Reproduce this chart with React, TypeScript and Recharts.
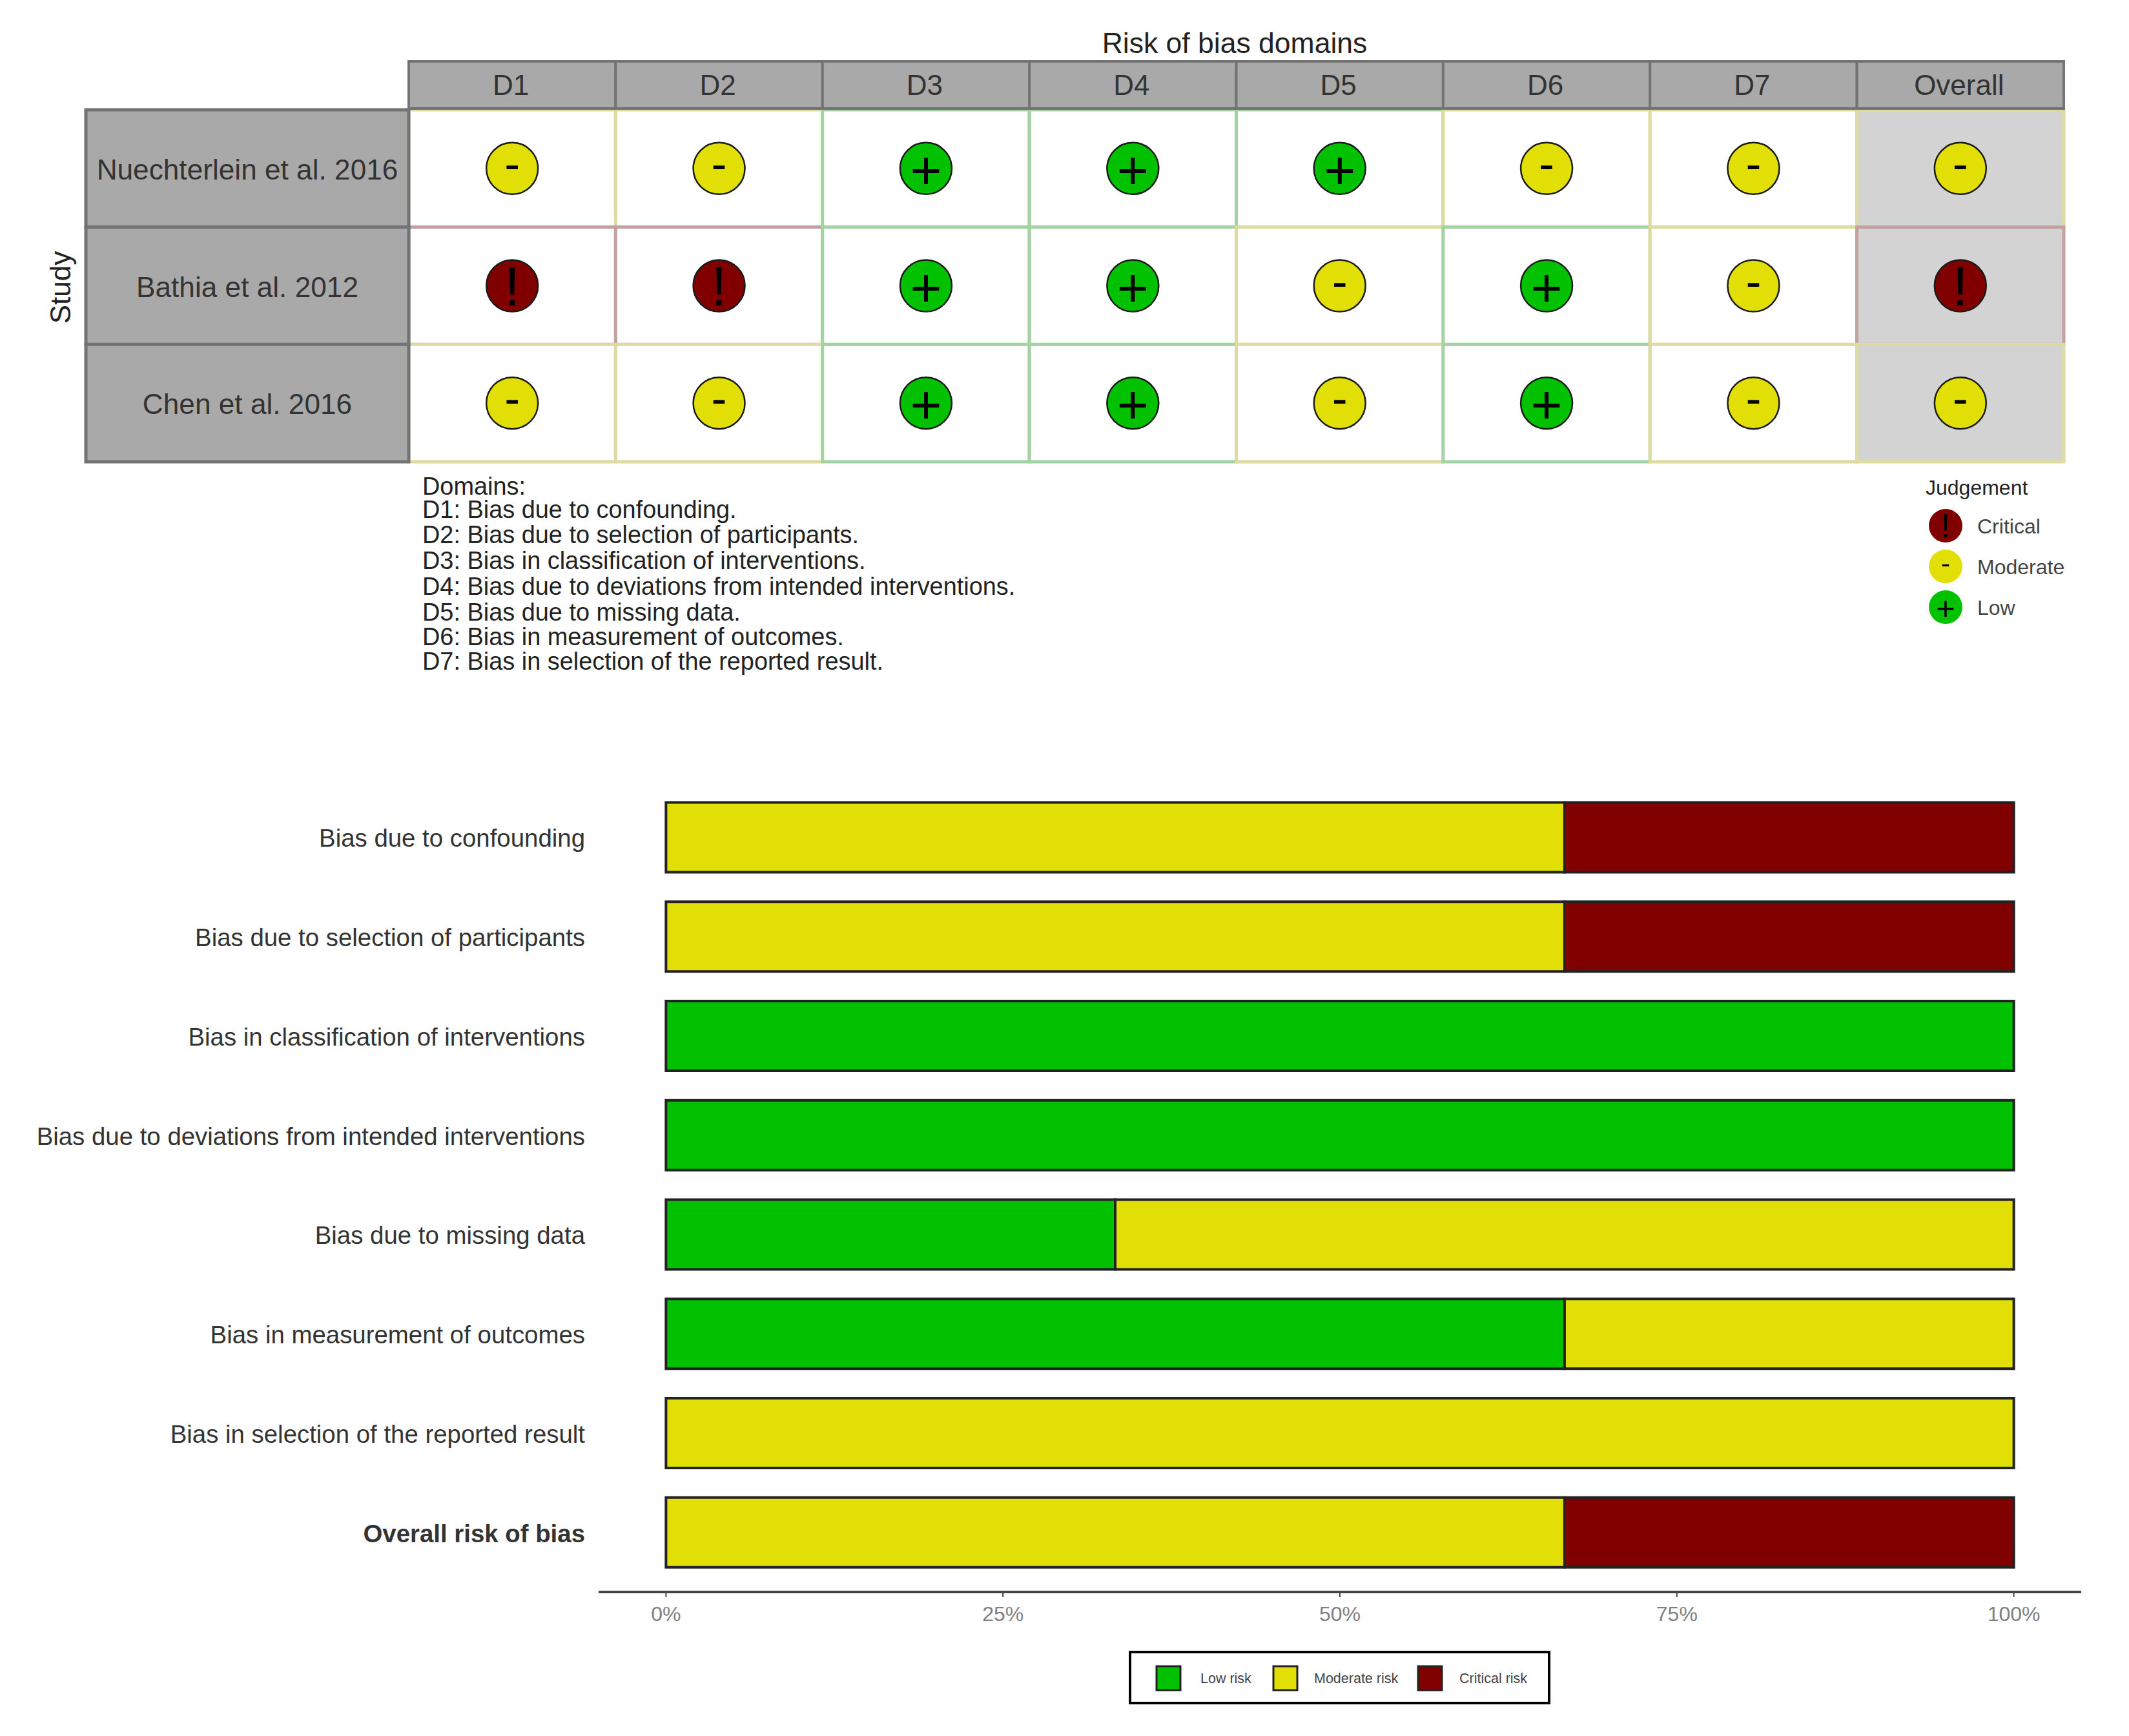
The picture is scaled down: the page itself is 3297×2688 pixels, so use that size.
import React from "react";
import { ScatterChart, Scatter, XAxis, YAxis, BarChart, Bar, Legend } from "recharts";

const FONT = "'Liberation Sans', Arial, sans-serif";

const domainLabels = ["D1", "D2", "D3", "D4", "D5", "D6", "D7", "Overall"];
const studyLabels = ["Nuechterlein et al. 2016", "Bathia et al. 2012", "Chen et al. 2016"];
const nuechterlein = ["Moderate", "Moderate", "Low", "Low", "Low", "Moderate", "Moderate", "Moderate"];
const bathia = ["Critical", "Critical", "Low", "Low", "Moderate", "Low", "Moderate", "Critical"];
const chen = ["Moderate", "Moderate", "Low", "Low", "Moderate", "Low", "Moderate", "Moderate"];
const judgementOrder = ["Critical", "Moderate", "Low"];
const footnotes = [
  "Domains:",
  "D1: Bias due to confounding.",
  "D2: Bias due to selection of participants.",
  "D3: Bias in classification of interventions.",
  "D4: Bias due to deviations from intended interventions.",
  "D5: Bias due to missing data.",
  "D6: Bias in measurement of outcomes.",
  "D7: Bias in selection of the reported result.",
];
const footnoteY = [753, 789, 828, 868, 908, 948, 986, 1024];

const barCategories = [
  "Bias due to confounding",
  "Bias due to selection of participants",
  "Bias in classification of interventions",
  "Bias due to deviations from intended interventions",
  "Bias due to missing data",
  "Bias in measurement of outcomes",
  "Bias in selection of the reported result",
  "Overall risk of bias",
];
const lowRisk = [0, 0, 100, 100, 33.33, 66.67, 0, 0];
const moderateRisk = [66.67, 66.67, 0, 0, 66.67, 33.33, 100, 66.67];
const criticalRisk = [33.33, 33.33, 0, 0, 0, 0, 0, 33.33];
const percentTicks = [0, 25, 50, 75, 100];

const GREEN = "#02C100";
const YELLOW = "#E2DF07";
const RED = "#800000";
const fills: Record<string, string> = { Critical: RED, Moderate: YELLOW, Low: GREEN };
const cellBorders: Record<string, string> = { Critical: "#C4A0A0", Moderate: "#DDDBA0", Low: "#A3D2A3" };
const glyphs: Record<string, string> = { Critical: "!", Moderate: "-", Low: "+" };

const rows = [nuechterlein, bathia, chen];
const points = rows.flatMap((row, r) =>
  row.map((judgement, c) => ({ col: c + 1, row: r + 1, judgement }))
);
const barData = barCategories.map((name, i) => ({
  name,
  low: lowRisk[i],
  moderate: moderateRisk[i],
  critical: criticalRisk[i],
}));

const PLOT_L = 633, PLOT_R = 3196, PLOT_T = 170, PLOT_B = 715;
const CELL_W = (PLOT_R - PLOT_L) / 8;
const CELL_H = (PLOT_B - PLOT_T) / 3;
const BORDER = "#737373";
const HEAD = "#A9A9A9";

function Glyph({ cx, cy, j, scale = 1 }: any) {
  const size = j === "Low" ? 84 : j === "Moderate" ? 72 : 86;
  const dy = j === "Low" ? 2 : j === "Moderate" ? -8 : 0;
  return (
    <text
      x={cx}
      y={cy + dy * scale}
      textAnchor="middle"
      dominantBaseline="central"
      fontFamily={FONT}
      fontSize={size * scale}
      fill="#000"
    >
      {glyphs[j]}
    </text>
  );
}

function CellShape(props: any) {
  const { cx, cy, payload } = props;
  const j = payload.judgement;
  const bg = payload.col === 8 ? "#D3D3D3" : "#FFFFFF";
  return (
    <g>
      <rect
        x={cx - CELL_W / 2}
        y={cy - CELL_H / 2}
        width={CELL_W}
        height={CELL_H}
        fill={bg}
        stroke={cellBorders[j]}
        strokeWidth={5}
      />
      <circle cx={cx} cy={cy} r={40} fill={fills[j]} stroke="#1a1a1a" strokeWidth={2.5} />
      <Glyph cx={cx} cy={cy} j={j} />
    </g>
  );
}

function DomainTick({ x, payload }: any) {
  return (
    <g>
      <rect x={x - CELL_W / 2} y={95} width={CELL_W} height={73} fill={HEAD} stroke={BORDER} strokeWidth={4} />
      <text x={x - 2} y={147} textAnchor="middle" fontFamily={FONT} fontSize={44} fill="#333">
        {domainLabels[payload.value - 1]}
      </text>
    </g>
  );
}

function StudyTick({ y, payload }: any) {
  return (
    <g>
      <rect x={133} y={y - CELL_H / 2} width={PLOT_L - 133} height={CELL_H} fill={HEAD} stroke={BORDER} strokeWidth={5} />
      <text x={383} y={y + 17} textAnchor="middle" fontFamily={FONT} fontSize={44.2} fill="#333">
        {studyLabels[payload.value - 1]}
      </text>
    </g>
  );
}

function JudgementLegend() {
  return (
    <svg width={3297} height={1100} style={{ position: "absolute", left: 0, top: 0, pointerEvents: "none" }}>
      <text x={2982} y={766} fontFamily={FONT} fontSize={32} fill="#222">Judgement</text>
      {judgementOrder.map((j, i) => (
        <g key={j}>
          <circle cx={3013} cy={814 + i * 63} r={26} fill={fills[j]} />
          <Glyph cx={3013} cy={814 + i * 63} j={j} scale={0.6} />
          <text x={3062} y={826 + i * 63} fontFamily={FONT} fontSize={32} fill="#444">{j}</text>
        </g>
      ))}
    </svg>
  );
}

function BarTick({ y, payload }: any) {
  const overall = payload.value === "Overall risk of bias";
  return (
    <text
      x={906}
      y={y + 15}
      textAnchor="end"
      fontFamily={FONT}
      fontSize={38.4}
      fontWeight={overall ? 700 : 400}
      fill="#333"
    >
      {payload.value}
    </text>
  );
}

const riskLegend = [
  { name: "Low risk", fill: GREEN, box: 1791, label: 1859 },
  { name: "Moderate risk", fill: YELLOW, box: 1972, label: 2035 },
  { name: "Critical risk", fill: RED, box: 2196, label: 2260 },
];

function RiskLegend() {
  return (
    <svg width={3297} height={1538} style={{ position: "absolute", left: 0, top: 0, pointerEvents: "none" }}>
      <rect x={1750} y={1408} width={649} height={79} fill="#fff" stroke="#000" strokeWidth={4} />
      {riskLegend.map((it) => (
        <g key={it.name}>
          <rect x={it.box} y={1430} width={37} height={37} fill={it.fill} stroke="#222" strokeWidth={3} />
          <text x={it.label} y={1456} fontFamily={FONT} fontSize={21.5} fill="#444">{it.name}</text>
        </g>
      ))}
    </svg>
  );
}

const hidden: React.CSSProperties = { position: "absolute", left: 0, top: 0, width: 0, height: 0 };

export default function App() {
  return (
    <div style={{ position: "absolute", left: 0, top: 0, width: 3297, height: 2688, background: "#fff", overflow: "hidden" }}>
      <div style={{ position: "absolute", left: 0, top: 0 }}>
        <ScatterChart
          width={3297}
          height={1100}
          margin={{ top: 95, left: 133, right: 3297 - PLOT_R, bottom: 1100 - PLOT_B }}
        >
          <XAxis
            type="number"
            dataKey="col"
            orientation="top"
            domain={[0.5, 8.5]}
            ticks={[1, 2, 3, 4, 5, 6, 7, 8]}
            interval={0}
            height={PLOT_T - 95}
            axisLine={false}
            tickLine={false}
            tick={<DomainTick />}
          />
          <YAxis
            type="number"
            dataKey="row"
            reversed
            domain={[0.5, 3.5]}
            ticks={[1, 2, 3]}
            interval={0}
            width={PLOT_L - 133}
            axisLine={false}
            tickLine={false}
            tick={<StudyTick />}
          />
          <Scatter data={points} isAnimationActive={false} shape={<CellShape />} />
          <text x={1912} y={82} textAnchor="middle" fontFamily={FONT} fontSize={44.5} fill="#222">
            Risk of bias domains
          </text>
          <text
            transform="translate(109,445) rotate(-90)"
            textAnchor="middle"
            fontFamily={FONT}
            fontSize={44}
            fill="#222"
          >
            Study
          </text>
          {footnotes.map((t, i) => (
            <text key={t} x={654} y={footnoteY[i] + 13} fontFamily={FONT} fontSize={37.9} fill="#222">
              {t}
            </text>
          ))}
          <Legend wrapperStyle={hidden} content={<JudgementLegend />} />
        </ScatterChart>
      </div>
      <div style={{ position: "absolute", left: 0, top: 1150 }}>
        <BarChart
          width={3297}
          height={1538}
          layout="vertical"
          data={barData}
          barSize={108}
          margin={{ top: 54, left: 0, right: 74, bottom: 133 }}
        >
          <XAxis
            type="number"
            domain={[-5, 105]}
            ticks={percentTicks}
            interval={0}
            allowDataOverflow
            height={90}
            tickFormatter={(v: number) => `${v}%`}
            axisLine={{ stroke: "#444", strokeWidth: 4 }}
            tickLine={{ stroke: "#444", strokeWidth: 2 }}
            tickSize={8}
            tickMargin={14}
            tick={{ fontFamily: FONT, fontSize: 32, fill: "#808080" }}
          />
          <YAxis
            type="category"
            dataKey="name"
            width={927}
            interval={0}
            padding={{ top: 15.4, bottom: 15.4 }}
            axisLine={false}
            tickLine={false}
            tick={<BarTick />}
          />
          <Bar dataKey="low" name="Low risk" stackId="r" fill={GREEN} stroke="#222" strokeWidth={4} isAnimationActive={false} />
          <Bar dataKey="moderate" name="Moderate risk" stackId="r" fill={YELLOW} stroke="#222" strokeWidth={4} isAnimationActive={false} />
          <Bar dataKey="critical" name="Critical risk" stackId="r" fill={RED} stroke="#222" strokeWidth={4} isAnimationActive={false} />
          <Legend wrapperStyle={hidden} content={<RiskLegend />} />
        </BarChart>
      </div>
    </div>
  );
}
